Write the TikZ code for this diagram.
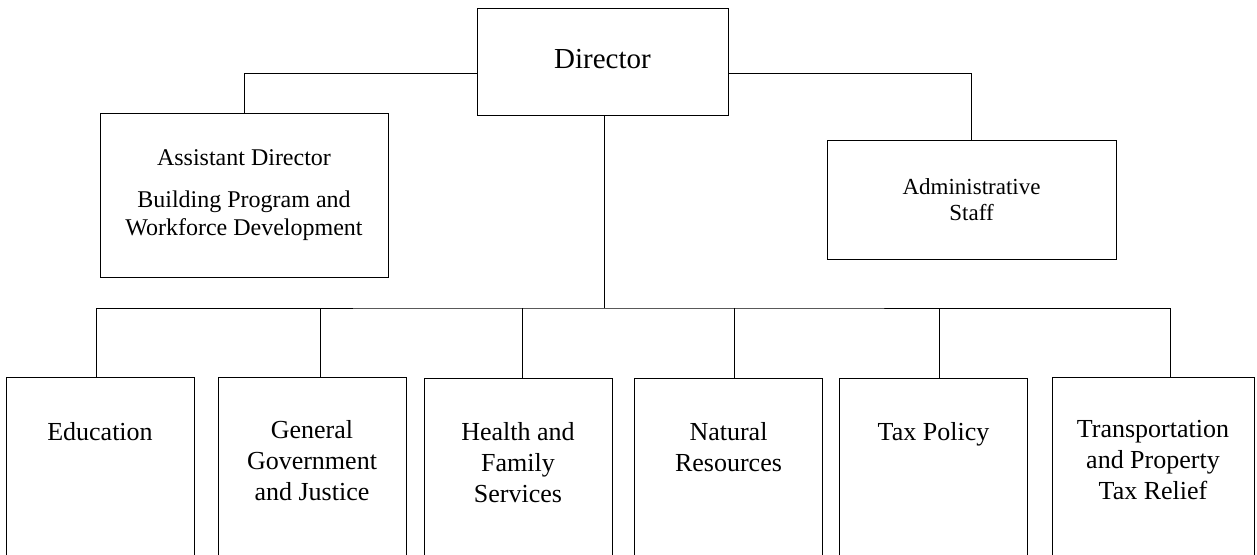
\documentclass[tikz,border=0pt]{standalone}
\usepackage{fontspec}
\setmainfont{Liberation Serif}
\usetikzlibrary{positioning}
\tikzset{
        line width=2pt, % all lines and boxes
        box/.style={draw, rectangle, inner sep=0pt, align=center}, % the boxes
        unit/.style={box, anchor=north, minimum width=188pt, minimum height=220pt}, % bottom row, cut at the page edge
        unitlabel/.style={inner sep=0pt, align=center, font=\fontsize{26}{31}\selectfont},
    }

\begin{document}
\begin{tikzpicture}[x=1pt, y=-1pt]
    \clip (0,0) rectangle (1257,554);
    % top of the chart
    \node[box, minimum width=251pt, minimum height=107pt] (dir) at (602.5,61.5) {};
    \node[font=\fontsize{29}{34}\selectfont, inner sep=0pt] (dirtext) at (602.5,59) {Director};
    \node[box, minimum width=288pt, minimum height=164pt, font=\fontsize{24}{28}\selectfont] (asst) at (244,195) {Assistant Director\\[14pt]Building Program and\\Workforce Development};
    \node[box, minimum width=289pt, minimum height=119pt, font=\fontsize{23}{26}\selectfont] (admin) at (971.5,199.5) {Administrative\\Staff};
    % bottom row
    \node[unit] (edu) at (100,377) {};
    \node[unit] (gov) at (312,377) {};
    \node[unit] (health) at (518,378) {};
    \node[unit] (nat) at (728.5,378) {};
    \node[unit] (tax) at (933.5,378) {};
    \node[unit, minimum width=202pt] (trans) at (1153,377) {};
    \node[unitlabel, below=45pt of edu.north] (edutext) {Education};
    \node[unitlabel, below=43pt of gov.north] (govtext) {General\\Government\\and Justice};
    \node[unitlabel, below=44pt of health.north] (healthtext) {Health and\\Family\\Services};
    \node[unitlabel, below=44pt of nat.north] (nattext) {Natural\\Resources};
    \node[unitlabel, below=44pt of tax.north] (taxtext) {Tax Policy};
    \node[unitlabel, below=43pt of trans.north] (transtext) {Transportation\\and Property\\Tax Relief};
    \coordinate (bus) at (604,308);
    % connectors
    \draw (asst.north) |- ([yshift=-11.5pt]dir.west);
    \draw ([yshift=-11.5pt]dir.east) -| (admin.north);
    \draw ([xshift=1.5pt]dir.south) -- (bus);
    \draw ([xshift=-4pt]edu.north) |- (bus) -| ([xshift=17pt]trans.north);
    \foreach \n/\s in {gov/8, health/4, nat/5.5, tax/5.5}
      \draw ([xshift=\s pt]\n.north) -- ([xshift=\s pt]\n.north |- bus);
\end{tikzpicture}
\end{document}
